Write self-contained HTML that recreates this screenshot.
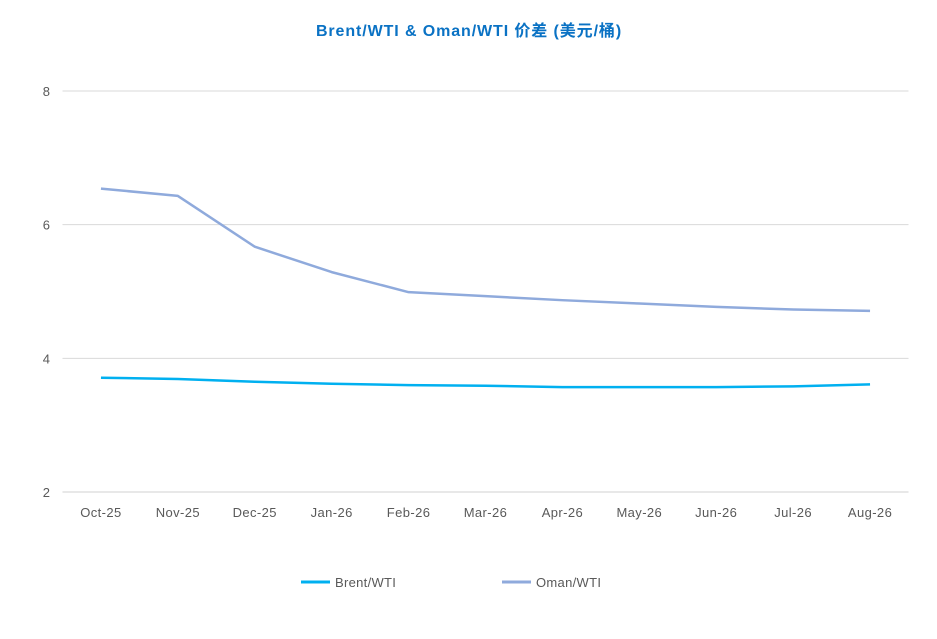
<!DOCTYPE html>
<html><head><meta charset="utf-8"><style>
body{margin:0;background:#fff;}
svg text{font-family:"Liberation Sans","Noto Sans CJK SC",sans-serif;}
</style></head><body>
<svg id="chart" width="937" height="634">
<text x="469" y="36" text-anchor="middle" font-size="16" font-weight="bold" letter-spacing="0.9" fill="#0A72C4">Brent/WTI &amp; Oman/WTI 价差 (美元/桶)</text>
<g id="grid"></g><g id="xl"></g><g id="series"></g>
<g>
<line x1="301" y1="582" x2="330" y2="582" stroke="#00B0F0" stroke-width="3"/>
<text x="335" y="587" font-size="13" letter-spacing="0.3" fill="#595959">Brent/WTI</text>
<line x1="502" y1="582" x2="531" y2="582" stroke="#8FAADC" stroke-width="3"/>
<text x="536" y="587" font-size="13" letter-spacing="0.3" fill="#595959">Oman/WTI</text>
</g>
</svg>
<script>
const categories=["Oct-25","Nov-25","Dec-25","Jan-26","Feb-26","Mar-26","Apr-26","May-26","Jun-26","Jul-26","Aug-26"];
const brent=[3.71,3.69,3.65,3.62,3.60,3.59,3.57,3.57,3.57,3.58,3.61];
const oman=[6.54,6.43,5.67,5.29,4.99,4.93,4.87,4.82,4.77,4.73,4.71];
const yTicks=[2,4,6,8];
const NS="http://www.w3.org/2000/svg";
const x0=62.5,x1=908.5,yB=492,yT=91,ymin=2,ymax=8;
const bw=(x1-x0)/categories.length;
function xs(i){return x0+bw*(i+0.5);}
function ys(v){return yB-(v-ymin)/(ymax-ymin)*(yB-yT);}
const grid=document.getElementById('grid');
yTicks.forEach(t=>{
  const l=document.createElementNS(NS,'line');
  l.setAttribute('x1',x0);l.setAttribute('x2',x1);l.setAttribute('y1',ys(t));l.setAttribute('y2',ys(t));
  l.setAttribute('stroke',t===ymin?'#d0d0d0':'#d9d9d9');l.setAttribute('stroke-width','1');
  
  
  grid.appendChild(l);
  const tx=document.createElementNS(NS,'text');
  tx.setAttribute('x',50);tx.setAttribute('y',ys(t)+5);tx.setAttribute('text-anchor','end');
  tx.setAttribute('font-size','13');tx.setAttribute('fill','#595959');tx.textContent=t;
  
  
  grid.appendChild(tx);
});
const xl=document.getElementById('xl');
categories.forEach((c,i)=>{
  const tx=document.createElementNS(NS,'text');
  tx.setAttribute('x',xs(i));tx.setAttribute('y',517);tx.setAttribute('text-anchor','middle');
  tx.setAttribute('font-size','13');tx.setAttribute('letter-spacing','0.4');tx.setAttribute('fill','#595959');tx.textContent=c;
  
  
  xl.appendChild(tx);
});
const sg=document.getElementById('series');
function line(vals,color,name){
  const p=document.createElementNS(NS,'polyline');
  p.setAttribute('points',vals.map((v,i)=>xs(i)+','+ys(v)).join(' '));
  p.setAttribute('fill','none');p.setAttribute('stroke',color);p.setAttribute('stroke-width','2.5');
  p.setAttribute('stroke-linejoin','round');
  
  
  sg.appendChild(p);
}
line(oman,'#8FAADC','oman-wti-line');
line(brent,'#00B0F0','brent-wti-line');
</script>
</body></html>
